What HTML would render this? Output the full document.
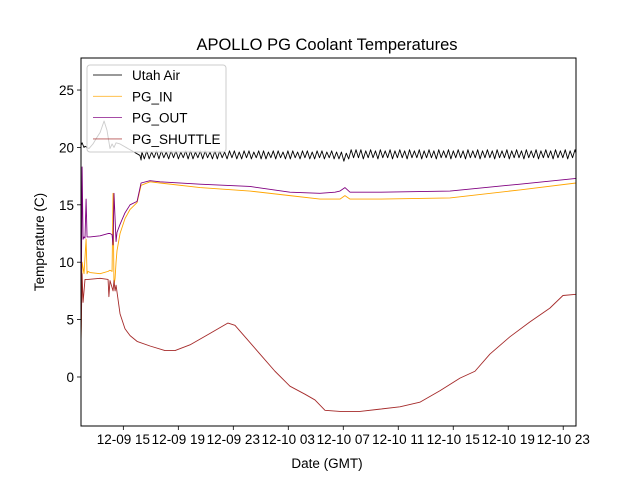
<!DOCTYPE html>
<html><head><meta charset="utf-8"><style>
body{margin:0;background:#fff;}
svg{font-family:"Liberation Sans","DejaVu Sans",sans-serif;}
</style></head><body>
<svg id="chart" width="640" height="480" viewBox="0 0 640 480">
<rect width="640" height="480" fill="#fff"/>
<defs><clipPath id="clip"><rect x="81" y="58" width="495" height="368"/></clipPath></defs>
<text x="327" y="50" text-anchor="middle" font-size="16.5">APOLLO PG Coolant Temperatures</text>
<g id="series" clip-path="url(#clip)"></g>
<g id="axes"></g>
<text x="327" y="468" text-anchor="middle" font-size="13.5">Date (GMT)</text>
<text transform="translate(44,242) rotate(-90)" text-anchor="middle" font-size="13.5">Temperature (C)</text>
<g id="legend"></g>
</svg>
<script>
// hours since 12-09 00:00 GMT
const xTickHours = [15,19,23,27,31,35,39,43,47];
const xTickLabels = ["12-09 15","12-09 19","12-09 23","12-10 03","12-10 07","12-10 11","12-10 15","12-10 19","12-10 23"];
const yTicks = [0,5,10,15,20,25];
const seriesNames = ["Utah Air","PG_IN","PG_OUT","PG_SHUTTLE"];

const utahEarlyTimes = [11.85,12.0,12.07,12.14,12.21,12.36,12.5,12.79,13.09,13.31,13.6,13.81,14.03,14.18,14.32,14.47,14.76,16.21,16.29];
const utahEarlyVals  = [20.0,20.4,20.2,20.0,20.1,20.0,19.9,20.3,20.9,21.3,22.3,21.5,19.9,20.3,20.0,20.4,20.3,19.3,18.9];
const utahOscStart = 16.35;
const utahOscStep = 0.177;
const utahOscVals = [
19.6,19.0,19.7,19.0,19.6,19.1,19.7,19.0,19.7,19.1,19.6,19.0,19.7,19.1,19.7,19.0,19.6,19.1,19.7,19.0,
19.7,19.0,19.6,19.1,19.7,19.0,19.7,19.1,19.6,19.0,19.7,19.0,19.7,19.1,19.6,19.0,19.7,19.1,19.7,19.0,
19.6,19.0,19.7,19.1,19.7,19.0,19.6,19.1,19.7,19.0,19.7,19.0,19.6,19.1,19.7,19.0,19.7,19.1,19.6,19.0,
19.7,19.0,19.7,19.1,19.6,19.0,19.7,19.1,19.7,19.0,19.6,19.0,19.7,19.1,19.7,19.0,19.6,19.1,19.7,19.0,
19.6,19.0,19.6,18.8,19.5,19.0,19.8,19.1,19.8,19.1,19.8,19.0,19.7,19.1,19.8,19.1,19.7,19.0,19.8,19.1,
19.7,19.1,19.8,19.0,19.7,19.1,19.8,19.1,19.7,19.0,19.8,19.1,19.7,19.1,19.8,19.0,19.7,19.1,19.8,19.1,
19.7,19.0,19.8,19.1,19.7,19.1,19.8,19.0,19.7,19.1,19.8,19.1,19.7,19.0,19.8,19.1,19.7,19.1,19.8,19.0,
19.7,19.1,19.8,19.1,19.7,19.0,19.8,19.1,19.7,19.1,19.8,19.0,19.7,19.1,19.8,19.1,19.7,19.0,19.8,19.1,
19.7,19.1,19.8,19.0,19.7,19.1,19.8,19.1,19.7,19.0,19.8,19.1,19.7,19.1,19.8,19.0,19.7,19.1,19.8,19.1
];

const pgInTimes = [11.92,12.0,12.07,12.14,12.29,12.36,12.43,12.58,13.31,13.89,14.03,14.18,14.25,14.32,14.40,14.47,14.54,14.76,15.12,15.49,16.0,16.29,16.94,17.67,20.58,24.21,27.12,29.3,30.76,31.12,31.49,33.67,38.76,43.85,47.93];
const pgInVals  = [3.0,10.0,9.5,9.0,12.0,9.0,9.2,9.1,9.0,9.2,9.3,9.2,16.0,8.0,8.6,10.0,11.0,12.5,13.8,14.6,15.2,16.7,17.0,16.9,16.5,16.2,15.8,15.5,15.5,15.8,15.5,15.5,15.6,16.3,16.9];

const pgOutTimes = [11.92,12.0,12.07,12.14,12.21,12.29,12.36,12.58,13.31,13.89,14.03,14.18,14.25,14.32,14.47,14.54,14.76,15.12,15.49,16.0,16.29,16.94,17.67,20.58,24.21,27.12,29.3,30.4,30.76,31.12,31.49,33.67,38.76,43.85,47.93];
const pgOutVals  = [3.0,18.3,12.0,12.2,12.1,15.5,12.2,12.2,12.3,12.5,12.5,12.4,11.5,16.0,11.8,12.6,13.3,14.3,15.0,15.3,16.9,17.1,17.0,16.8,16.6,16.1,16.0,16.1,16.2,16.5,16.1,16.1,16.2,16.8,17.3];

const pgShutTimes = [11.92,12.0,12.07,12.21,12.43,13.31,13.89,13.95,14.03,14.25,14.32,14.40,14.47,14.76,15.12,15.49,16.0,16.94,18.03,18.76,19.85,21.31,22.61,23.12,23.85,24.94,26.03,27.12,28.21,28.94,29.67,30.76,32.21,33.67,35.12,36.57,38.03,39.49,40.58,41.67,43.12,44.58,46.03,46.98,47.93];
const pgShutVals  = [3.0,9.0,6.5,8.5,8.5,8.6,8.5,7.0,8.4,7.5,8.4,7.5,8.0,5.5,4.2,3.6,3.1,2.7,2.3,2.3,2.8,3.8,4.7,4.5,3.5,2.0,0.5,-0.8,-1.5,-2.0,-2.9,-3.0,-3.0,-2.8,-2.6,-2.2,-1.2,-0.1,0.5,2.0,3.5,4.8,6.0,7.1,7.2];

const L=81,R=576,T=58,B=426;
const hMin=11.92, hMax=47.93, yMin=-4.27, yMax=27.79;
function xs(h){return L+(h-hMin)/(hMax-hMin)*(R-L);}
function ys(v){return B-(v-yMin)/(yMax-yMin)*(B-T);}
const NS="http://www.w3.org/2000/svg";
function mk(t,a,p){const e=document.createElementNS(NS,t);for(const k in a)e.setAttribute(k,a[k]);p.appendChild(e);return e;}

const utahTimes = utahEarlyTimes.slice(), utahVals = utahEarlyVals.slice();
utahOscVals.forEach((v,i)=>{utahTimes.push(utahOscStart+i*utahOscStep);utahVals.push(v);});

const sg=document.getElementById('series');
function line(times,vals,color,name){
  const d=times.map((t,i)=>(i?'L':'M')+xs(t).toFixed(2)+','+ys(vals[i]).toFixed(2)).join('');
  const p=mk('path',{d:d,fill:'none',stroke:color,'stroke-width':0.9,'stroke-linejoin':'round'},sg);
  
  
}
line(utahTimes,utahVals,'#000','line-utah-air');
line(pgInTimes,pgInVals,'#ffa500','line-pg-in');
line(pgOutTimes,pgOutVals,'#800080','line-pg-out');
line(pgShutTimes,pgShutVals,'#a52a2a','line-pg-shuttle');

const ax=document.getElementById('axes');
const frame=mk('rect',{x:L,y:T,width:R-L,height:B-T,fill:'none',stroke:'#000','stroke-width':1},ax);


xTickHours.forEach((h,i)=>{
  const x=xs(h);
  const tk=mk('line',{x1:x,x2:x,y1:B,y2:B+4,stroke:'#000','stroke-width':0.8},ax);
  
  
  const tx=mk('text',{x:x,y:B+18,'text-anchor':'middle','font-size':13.5},ax);
  
  
  tx.textContent=xTickLabels[i];
});
yTicks.forEach(v=>{
  const y=ys(v);
  const tk=mk('line',{x1:L-4,x2:L,y1:y,y2:y,stroke:'#000','stroke-width':0.8},ax);
  
  
  const tx=mk('text',{x:L-7,y:y+5,'text-anchor':'end','font-size':13.5},ax);
  
  
  tx.textContent=String(v);
});

const lg=document.getElementById('legend');
const box=mk('rect',{x:87,y:65,width:139,height:87,rx:3,fill:'#fff','fill-opacity':0.8,stroke:'#ccc','stroke-width':1},lg);


const legColors=['#000','#ffa500','#800080','#a52a2a'];
seriesNames.forEach((n,i)=>{
  const y=75+i*21.3;
  const ln=mk('line',{x1:93,x2:122,y1:y,y2:y,stroke:legColors[i],'stroke-width':0.9,'stroke-opacity':0.8},lg);
  
  
  const tx=mk('text',{x:132,y:y+5,'font-size':13.5},lg);
  
  
  tx.textContent=n;
});
</script>
</body></html>
